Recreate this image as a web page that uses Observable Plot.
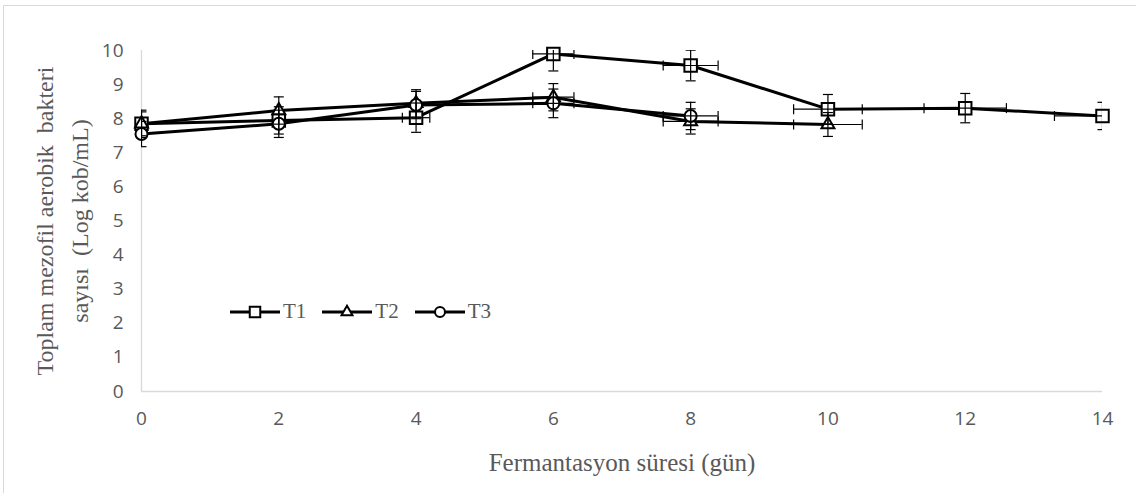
<!DOCTYPE html>
<html>
<head>
<meta charset="utf-8">
<script src="https://cdn.jsdelivr.net/npm/d3@7"></script>
<script src="https://cdn.jsdelivr.net/npm/@observablehq/plot@0.6"></script>
<style>
  html, body { margin: 0; padding: 0; background: #fff; }
  #wrap { position: relative; width: 1136px; height: 493px; overflow: hidden; }
  #border { position: absolute; left: 3px; top: 5px; width: 1300px; height: 600px; border-top: 1.5px solid #d9d9d9; border-left: 1.5px solid #d9d9d9; }
  #chart { position: absolute; left: 0; top: 0; }
  #legend { position: absolute; left: 230px; top: 299px; display: flex; align-items: center; font-family: "Liberation Serif", serif; font-size: 21px; color: #595959; }
  #legend .item { display: flex; align-items: center; }
  #legend svg { display: block; }
</style>
</head>
<body>
<div id="wrap">
  <div id="border"></div>
  <div id="chart"></div>
  <div id="legend"></div>
</div>
<script>
// ---- data ----
const series = ["T1", "T2", "T3"];
const daysT1 = [0, 2, 4, 6, 8, 10, 12, 14];
const valT1  = [7.85, 7.95, 8.03, 9.90, 9.56, 8.28, 8.31, 8.08];
const yerrT1 = [0.40, 0.40, 0.43, 0.50, 0.45, 0.43, 0.43, 0.40];
const xerrT1 = [0, 0, 0.2, 0.3, 0.4, 0.5, 0.6, 0.7];

const daysT2 = [0, 2, 4, 6, 8, 10];
const valT2  = [7.85, 8.24, 8.45, 8.63, 7.92, 7.83];
const yerrT2 = [0.35, 0.40, 0.40, 0.40, 0.37, 0.35];
const xerrT2 = [0, 0, 0, 0.3, 0.4, 0.5];

const daysT3 = [0, 2, 4, 6, 8];
const valT3  = [7.55, 7.85, 8.40, 8.45, 8.08];
const yerrT3 = [0.37, 0.40, 0.40, 0.42, 0.40];
const xerrT3 = [0, 0, 0, 0.3, 0.4];

const xTicks = [0, 2, 4, 6, 8, 10, 12, 14];
const yTicks = [0, 1, 2, 3, 4, 5, 6, 7, 8, 9, 10];
const xTitle = "Fermantasyon süresi (gün)";
const yTitle1 = "Toplam mezofil aerobik  bakteri";
const yTitle2 = "sayısı  (Log kob/mL)";

// ---- build table ----
const symbolOf = {T1: "square", T2: "triangle", T3: "circle"};
function rows(name, days, vals, yerr, xerr) {
  return days.map((d, i) => ({series: name, day: d, value: vals[i], yerr: yerr[i], xerr: xerr[i]}));
}
const data = [
  ...rows("T1", daysT1, valT1, yerrT1, xerrT1),
  ...rows("T2", daysT2, valT2, yerrT2, xerrT2),
  ...rows("T3", daysT3, valT3, yerrT3, xerrT3)
];
const xErrData = data.filter(d => d.xerr > 0);

// custom cap symbols
const hCap = {draw(ctx, size) { const r = Math.sqrt(size / Math.PI); ctx.moveTo(-r, 0); ctx.lineTo(r, 0); }};
const vCap = {draw(ctx, size) { const r = Math.sqrt(size / Math.PI); ctx.moveTo(0, -r); ctx.lineTo(0, r); }};

const serif = "'Liberation Serif', 'Times New Roman', serif";
const markerR = {T1: 7.05, T2: 4.8, T3: 6.0};
const titleSize = 24;

const marks = [
  Plot.ruleY([0], {stroke: "#d9d9d9", strokeWidth: 1.3}),
  Plot.ruleX([0], {stroke: "#d9d9d9", strokeWidth: 1.3}),
  Plot.axisX({ticks: xTicks, tickSize: 0, tickPadding: 20, label: null, fill: "#595959"}),
  Plot.axisY({ticks: yTicks, tickSize: 0, tickPadding: 18, label: null, fill: "#595959"}),
  Plot.lineY(data, {x: "day", y: "value", z: "series", stroke: "black", strokeWidth: 3}),
];
for (const s of series) {
  marks.push(Plot.dot(data.filter(d => d.series === s), {
    x: "day", y: "value", symbol: () => symbolOf[s], r: markerR[s],
    fill: "white", stroke: "black", strokeWidth: 2
  }));
}
marks.push(
  // vertical error bars
  Plot.ruleX(data, {x: "day", y1: d => d.value - d.yerr, y2: d => d.value + d.yerr, stroke: "black", strokeWidth: 1.2, clip: true}),
  Plot.dot(data, {x: "day", y: d => d.value + d.yerr, symbol: hCap, r: 5, stroke: "black", strokeWidth: 1.2, clip: true}),
  Plot.dot(data, {x: "day", y: d => d.value - d.yerr, symbol: hCap, r: 5, stroke: "black", strokeWidth: 1.2, clip: true}),
  // horizontal error bars
  Plot.ruleY(xErrData, {y: "value", x1: d => d.day - d.xerr, x2: d => d.day + d.xerr, stroke: "black", strokeWidth: 1.2, clip: true}),
  Plot.dot(xErrData, {x: d => d.day - d.xerr, y: "value", symbol: vCap, r: 5, stroke: "black", strokeWidth: 1.2, clip: true}),
  Plot.dot(xErrData, {x: d => d.day + d.xerr, y: "value", symbol: vCap, r: 5, stroke: "black", strokeWidth: 1.2, clip: true}),
  // titles
  Plot.text([xTitle], {frameAnchor: "bottom", textAnchor: "middle", lineAnchor: "middle", dy: 71, fontFamily: serif, fontSize: 25, fill: "#595959"}),
  Plot.text([yTitle1], {frameAnchor: "left", textAnchor: "middle", lineAnchor: "middle", rotate: -90, dx: -96, fontFamily: serif, fontSize: titleSize, fill: "#595959"}),
  Plot.text([yTitle2], {frameAnchor: "left", textAnchor: "middle", lineAnchor: "middle", rotate: -90, dx: -61, fontFamily: serif, fontSize: titleSize, fill: "#595959"})
);

const chart = Plot.plot({
  width: 1136,
  height: 493,
  marginLeft: 141,
  marginRight: 34,
  marginTop: 50,
  marginBottom: 102,
  x: {domain: [0, 14]},
  y: {domain: [0, 10]},
  style: {background: "transparent", fontFamily: "'Open Sans', sans-serif", fontSize: "19px", color: "#595959"},
  marks
});
document.getElementById("chart").appendChild(chart);

// legend
const legend = document.getElementById("legend");
const legendSize = {T1: 110, T2: 52, T3: 78};
for (const s of series) {
  const item = document.createElement("div");
  item.className = "item";
  const sw = d3.create("svg").attr("width", 50).attr("height", 24);
  sw.append("line").attr("x1", 0).attr("x2", 50).attr("y1", 12).attr("y2", 12).attr("stroke", "black").attr("stroke-width", 3);
  const sym = {square: d3.symbolSquare, triangle: d3.symbolTriangle, circle: d3.symbolCircle}[symbolOf[s]];
  sw.append("path").attr("transform", "translate(25,12)")
    .attr("d", d3.symbol(sym, legendSize[s])())
    .attr("fill", "white").attr("stroke", "black").attr("stroke-width", 2);
  item.appendChild(sw.node());
  const label = document.createElement("span");
  label.textContent = s;
  label.style.marginLeft = "3px";
  label.style.marginRight = "16px";
  item.appendChild(label);
  legend.appendChild(item);
}
</script>
</body>
</html>
